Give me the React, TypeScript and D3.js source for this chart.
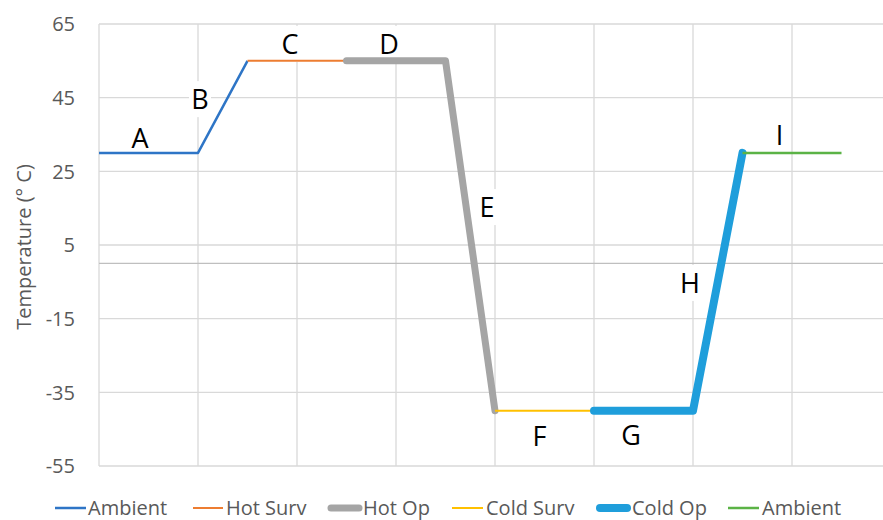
import React from "react";
import * as d3 from "d3";

const yTicks = [65, 45, 25, 5, -15, -35, -55];
const xGrid = [0, 2, 4, 6, 8, 10, 12, 14, 16];

const seriesNames = ["Ambient", "Hot Surv", "Hot Op", "Cold Surv", "Cold Op", "Ambient"];
const seriesColors = ["#2E75C6", "#ED7D31", "#A5A5A5", "#FFC000", "#1F9EDB", "#5BB346"];
const seriesWidths = [2.5, 2, 7, 2, 8, 2.5];
const ambientX = [0, 2, 3];
const ambientY = [30, 30, 55];
const hotSurvX = [3, 5];
const hotSurvY = [55, 55];
const hotOpX = [5, 7, 8];
const hotOpY = [55, 55, -40];
const coldSurvX = [8, 10];
const coldSurvY = [-40, -40];
const coldOpX = [10, 12, 13];
const coldOpY = [-40, -40, 30];
const ambient2X = [13, 15];
const ambient2Y = [30, 30];
const seriesX = [ambientX, hotSurvX, hotOpX, coldSurvX, coldOpX, ambient2X];
const seriesY = [ambientY, hotSurvY, hotOpY, coldSurvY, coldOpY, ambient2Y];

const labelTexts = ["A", "B", "C", "D", "E", "F", "G", "H", "I"];
const labelX = [0.83, 2.04, 3.86, 5.86, 7.84, 8.9, 10.75, 11.94, 13.75];
const labelY = [34, 44.6, 59.6, 59.6, 15.3, -46.9, -46.7, -5.3, 34.9];

export default function App() {
  const W = 883, H = 520;
  const left = 99, right = 891, top = 24, bottom = 466;
  const x = d3.scaleLinear().domain([0, 16]).range([left, right]);
  const y = d3.scaleLinear().domain([-55, 65]).range([bottom, top]);
  const line = d3.line<[number, number]>().x(d => x(d[0])).y(d => y(d[1]));
  const font = "'Open Sans', sans-serif";
  const legendItems = [
    { lx: 55, lx2: 86, tx: 88 },
    { lx: 193, lx2: 223, tx: 226 },
    { lx: 331, lx2: 359, tx: 363 },
    { lx: 452, lx2: 483, tx: 486 },
    { lx: 600, lx2: 627, tx: 632 },
    { lx: 728, lx2: 759, tx: 762 },
  ];
  return (
    <svg width={W} height={H} style={{ position: "absolute", left: 0, top: 0, background: "#fff" }}>
      <rect width={W} height={H} fill="#fff" />
      {yTicks.map(t => (
        <line key={"h" + t} x1={left} x2={right} y1={y(t)} y2={y(t)} stroke="#D9D9D9" strokeWidth={1.3} />
      ))}
      {xGrid.map(t => (
        <line key={"v" + t} x1={x(t)} x2={x(t)} y1={top} y2={bottom} stroke="#D9D9D9" strokeWidth={1.3} />
      ))}
      <line x1={left} x2={right} y1={y(0)} y2={y(0)} stroke="#BFBFBF" strokeWidth={1.3} />
      {yTicks.map(t => (
        <text key={"t" + t} x={75} y={y(t)} dy="0.36em" textAnchor="end" fontSize={20} fill="#595959" fontFamily={font}>
          {t}
        </text>
      ))}
      <text
        transform={`translate(24,${(top + bottom) / 2 + 2}) rotate(-90)`}
        textAnchor="middle"
        dy="0.36em"
        fontSize={20}
        fill="#595959"
        fontFamily={font}
      >
        Temperature (° C)
      </text>
      {labelTexts.map((t, i) => {
        const cx = x(labelX[i]);
        const cy = y(labelY[i]);
        return (
          <g key={"l" + t}>
            <rect x={cx - 11} y={cy - 18} width={22} height={36} fill="#fff" />
            <text x={cx} y={cy} dy="0.36em" textAnchor="middle" fontSize={27} fill="#000" fontFamily={font}>
              {t}
            </text>
          </g>
        );
      })}
      {seriesX.map((xs, i) => (
        <path
          key={"s" + i}
          d={line(xs.map((v, j) => [v, seriesY[i][j]] as [number, number])) || ""}
          fill="none"
          stroke={seriesColors[i]}
          strokeWidth={seriesWidths[i]}
          strokeLinecap={seriesWidths[i] > 4 ? "round" : "butt"}
          strokeLinejoin="round"
        />
      ))}
      {legendItems.map((it, i) => (
        <g key={"lg" + i}>
          <line
            x1={it.lx}
            x2={it.lx2}
            y1={508}
            y2={508}
            stroke={seriesColors[i]}
            strokeWidth={seriesWidths[i]}
            strokeLinecap={seriesWidths[i] > 4 ? "round" : "butt"}
          />
          <text x={it.tx} y={508} dy="0.36em" fontSize={20} fill="#595959" fontFamily={font}>
            {seriesNames[i]}
          </text>
        </g>
      ))}
    </svg>
  );
}
